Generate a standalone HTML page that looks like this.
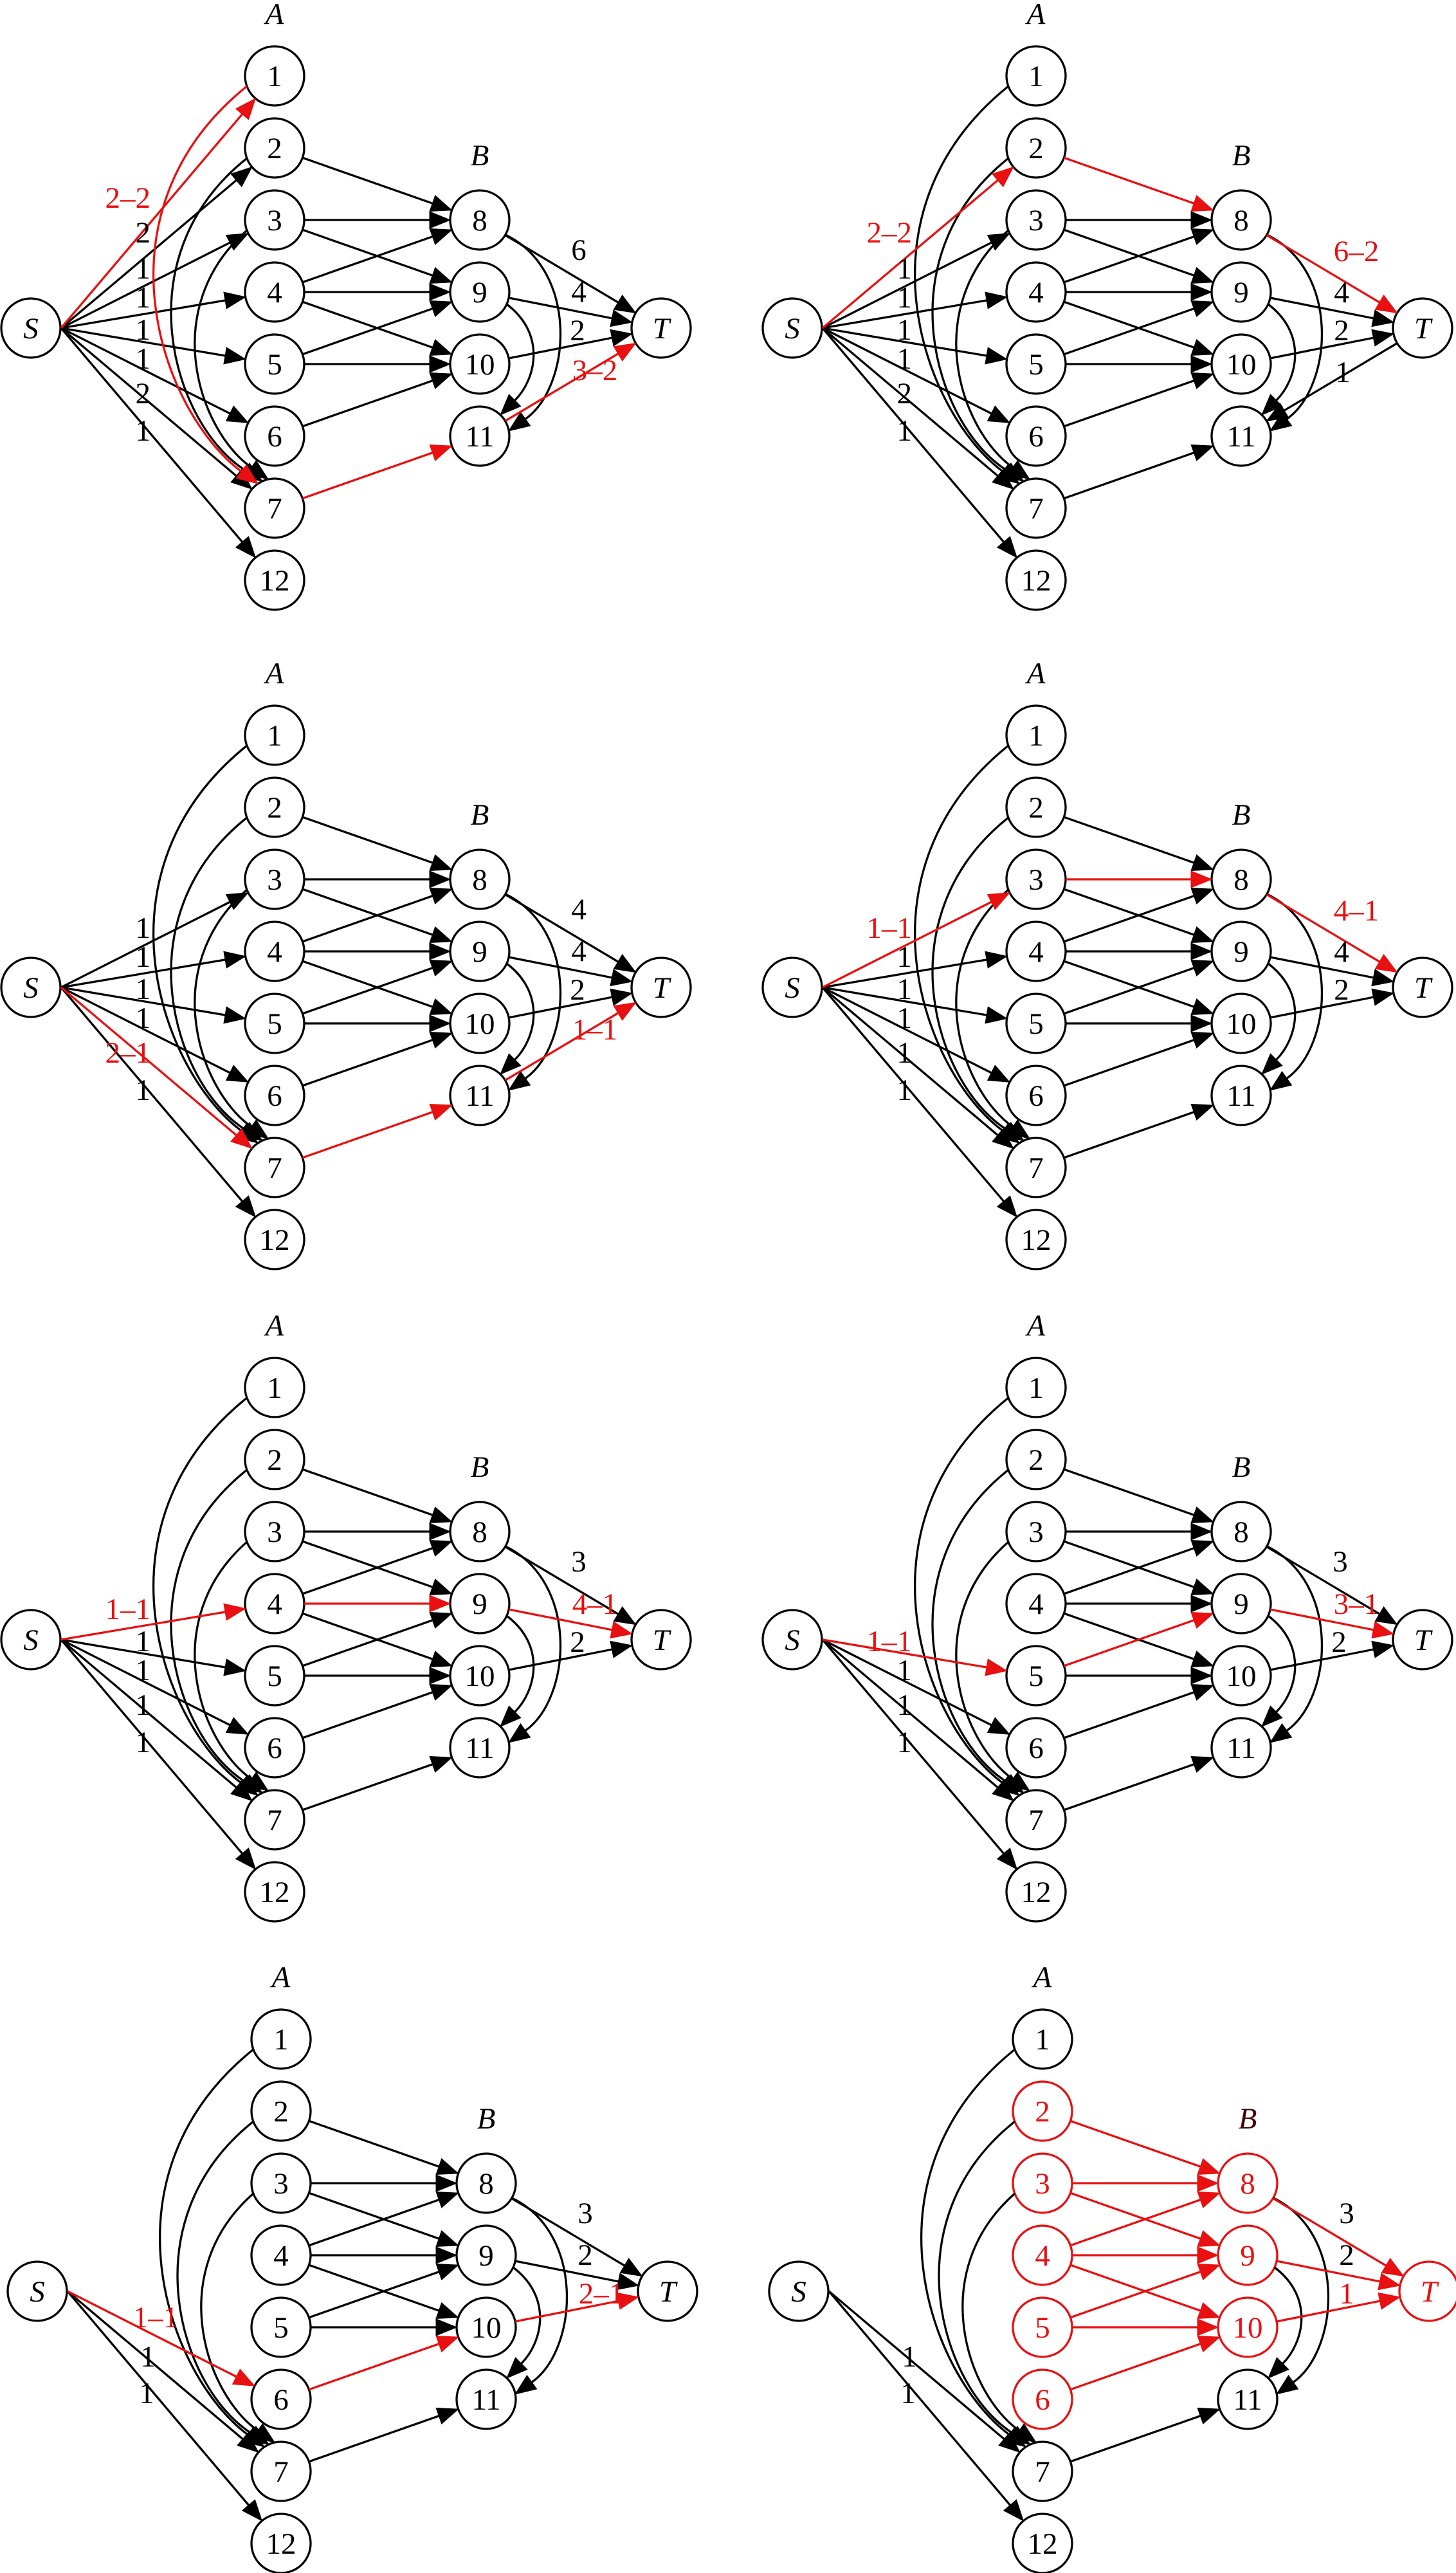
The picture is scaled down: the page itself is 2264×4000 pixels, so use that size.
<!DOCTYPE html>
<html><head><meta charset="utf-8">
<style>
html,body{margin:0;padding:0;background:#fff;}
svg{display:block;}
text{font-family:"Liberation Serif",serif;font-size:47px;text-anchor:middle;fill:#000;}
text.i{font-style:italic;}
text.r{fill:#e81010;}
text.e{text-anchor:end;}
</style></head>
<body>
<svg id="svg" width="2264" height="4000" viewBox="0 0 2264 4000" xmlns="http://www.w3.org/2000/svg">
<rect width="2264" height="4000" fill="#fff"/>
<g id="p1" transform="translate(0,0)"><g class="dr"></g>
<text class="i" x="48" y="526">S</text><text class="i" x="1028" y="526">T</text>
<text class="i" x="427" y="37">A</text><text class="i" x="746" y="257">B</text>
<text x="427" y="134">1</text><text x="427" y="246">2</text><text x="427" y="358">3</text><text x="427" y="470">4</text><text x="427" y="582">5</text><text x="427" y="694">6</text><text x="427" y="806">7</text><text x="427" y="918">12</text>
<text x="746" y="358">8</text><text x="746" y="470">9</text><text x="746" y="582">10</text><text x="746" y="694">11</text>
<text class="e r" x="234" y="323">2–2</text><text class="e" x="234" y="377">2</text><text class="e" x="234" y="433">1</text><text class="e" x="234" y="478">1</text><text class="e" x="234" y="528">1</text><text class="e" x="234" y="573">1</text><text class="e" x="234" y="627">2</text><text class="e" x="234" y="685">1</text>
<text x="900" y="404">6</text><text x="900" y="469">4</text><text x="898" y="529">2</text><text class="r" x="925" y="591">3–2</text>
</g>
<g id="p2" transform="translate(1184,0)"><g class="dr"></g>
<text class="i" x="48" y="526">S</text><text class="i" x="1028" y="526">T</text>
<text class="i" x="427" y="37">A</text><text class="i" x="746" y="257">B</text>
<text x="427" y="134">1</text><text x="427" y="246">2</text><text x="427" y="358">3</text><text x="427" y="470">4</text><text x="427" y="582">5</text><text x="427" y="694">6</text><text x="427" y="806">7</text><text x="427" y="918">12</text>
<text x="746" y="358">8</text><text x="746" y="470">9</text><text x="746" y="582">10</text><text x="746" y="694">11</text>
<text class="e r" x="234" y="377">2–2</text><text class="e" x="234" y="433">1</text><text class="e" x="234" y="478">1</text><text class="e" x="234" y="528">1</text><text class="e" x="234" y="573">1</text><text class="e" x="234" y="627">2</text><text class="e" x="234" y="685">1</text>
<text class="r" x="925" y="406">6–2</text><text x="902" y="470">4</text><text x="902" y="529">2</text><text x="904" y="594">1</text>
</g>
<g id="p3" transform="translate(0,1025)"><g class="dr"></g>
<text class="i" x="48" y="526">S</text><text class="i" x="1028" y="526">T</text>
<text class="i" x="427" y="37">A</text><text class="i" x="746" y="257">B</text>
<text x="427" y="134">1</text><text x="427" y="246">2</text><text x="427" y="358">3</text><text x="427" y="470">4</text><text x="427" y="582">5</text><text x="427" y="694">6</text><text x="427" y="806">7</text><text x="427" y="918">12</text>
<text x="746" y="358">8</text><text x="746" y="470">9</text><text x="746" y="582">10</text><text x="746" y="694">11</text>
<text class="e" x="234" y="433">1</text><text class="e" x="234" y="478">1</text><text class="e" x="234" y="528">1</text><text class="e" x="234" y="573">1</text><text class="e r" x="234" y="627">2–1</text><text class="e" x="234" y="685">1</text>
<text x="900" y="404">4</text><text x="900" y="469">4</text><text x="898" y="529">2</text><text class="r" x="925" y="591">1–1</text>
</g>
<g id="p4" transform="translate(1184,1025)"><g class="dr"></g>
<text class="i" x="48" y="526">S</text><text class="i" x="1028" y="526">T</text>
<text class="i" x="427" y="37">A</text><text class="i" x="746" y="257">B</text>
<text x="427" y="134">1</text><text x="427" y="246">2</text><text x="427" y="358">3</text><text x="427" y="470">4</text><text x="427" y="582">5</text><text x="427" y="694">6</text><text x="427" y="806">7</text><text x="427" y="918">12</text>
<text x="746" y="358">8</text><text x="746" y="470">9</text><text x="746" y="582">10</text><text x="746" y="694">11</text>
<text class="e r" x="234" y="433">1–1</text><text class="e" x="234" y="478">1</text><text class="e" x="234" y="528">1</text><text class="e" x="234" y="573">1</text><text class="e" x="234" y="627">1</text><text class="e" x="234" y="685">1</text>
<text class="r" x="925" y="406">4–1</text><text x="902" y="470">4</text><text x="902" y="529">2</text>
</g>
<g id="p5" transform="translate(0,2039)"><g class="dr"></g>
<text class="i" x="48" y="526">S</text><text class="i" x="1028" y="526">T</text>
<text class="i" x="427" y="37">A</text><text class="i" x="746" y="257">B</text>
<text x="427" y="134">1</text><text x="427" y="246">2</text><text x="427" y="358">3</text><text x="427" y="470">4</text><text x="427" y="582">5</text><text x="427" y="694">6</text><text x="427" y="806">7</text><text x="427" y="918">12</text>
<text x="746" y="358">8</text><text x="746" y="470">9</text><text x="746" y="582">10</text><text x="746" y="694">11</text>
<text class="e r" x="234" y="478">1–1</text><text class="e" x="234" y="528">1</text><text class="e" x="234" y="573">1</text><text class="e" x="234" y="627">1</text><text class="e" x="234" y="685">1</text>
<text x="900" y="404">3</text><text class="r" x="925" y="470">4–1</text><text x="898" y="529">2</text>
</g>
<g id="p6" transform="translate(1184,2039)"><g class="dr"></g>
<text class="i" x="48" y="526">S</text><text class="i" x="1028" y="526">T</text>
<text class="i" x="427" y="37">A</text><text class="i" x="746" y="257">B</text>
<text x="427" y="134">1</text><text x="427" y="246">2</text><text x="427" y="358">3</text><text x="427" y="470">4</text><text x="427" y="582">5</text><text x="427" y="694">6</text><text x="427" y="806">7</text><text x="427" y="918">12</text>
<text x="746" y="358">8</text><text x="746" y="470">9</text><text x="746" y="582">10</text><text x="746" y="694">11</text>
<text class="e r" x="234" y="528">1–1</text><text class="e" x="234" y="573">1</text><text class="e" x="234" y="627">1</text><text class="e" x="234" y="685">1</text>
<text x="900" y="404">3</text><text class="r" x="925" y="470">3–1</text><text x="898" y="529">2</text>
</g>
<g id="p7" transform="translate(10,3052)"><g class="dr"></g>
<text class="i" x="48" y="526">S</text><text class="i" x="1028" y="526">T</text>
<text class="i" x="427" y="37">A</text><text class="i" x="746" y="257">B</text>
<text x="427" y="134">1</text><text x="427" y="246">2</text><text x="427" y="358">3</text><text x="427" y="470">4</text><text x="427" y="582">5</text><text x="427" y="694">6</text><text x="427" y="806">7</text><text x="427" y="918">12</text>
<text x="746" y="358">8</text><text x="746" y="470">9</text><text x="746" y="582">10</text><text x="746" y="694">11</text>
<text class="r" x="232" y="566">1–1</text><text x="220" y="627">1</text><text x="218" y="684">1</text>
<text x="900" y="404">3</text><text x="900" y="469">2</text><text class="r" x="925" y="529">2–1</text>
</g>
<g id="p8" transform="translate(1194,3052)"><g class="dr"></g>
<text class="i" x="48" y="526">S</text><text class="i r" x="1028" y="526">T</text>
<text class="i" x="427" y="37">A</text><text class="i" x="746" y="257" style="fill:#400">B</text>
<text x="427" y="134">1</text><text class="r" x="427" y="246">2</text><text class="r" x="427" y="358">3</text><text class="r" x="427" y="470">4</text><text class="r" x="427" y="582">5</text><text class="r" x="427" y="694">6</text><text x="427" y="806">7</text><text x="427" y="918">12</text>
<text class="r" x="746" y="358">8</text><text class="r" x="746" y="470">9</text><text class="r" x="746" y="582">10</text><text x="746" y="694">11</text>
<text x="220" y="627">1</text><text x="218" y="684">1</text>
<text x="900" y="404">3</text><text x="900" y="469">2</text><text class="r" x="900" y="529">1</text>
</g>
</svg>
<script>
(function(){
var NS="http://www.w3.org/2000/svg";
var RED="#e81010",R=46,AL=32,HW=13,SW=3.3;
var P={S:[48,510],T:[1028,510],1:[427,118],2:[427,230],3:[427,342],4:[427,454],5:[427,566],6:[427,678],7:[427,790],12:[427,902],8:[746,342],9:[746,454],10:[746,566],11:[746,678]};
var ARCS={
"1-7":[[384,134],[140,330],[250,640],[401,752]],
"2-7":[[384,246],[190,400],[269,660],[408,748]],
"3-7":[[384,358],[245,480],[310,670],[417,745]],
"8-11":[[786,365],[900,420],[889,600],[791,670]],
"9-11":[[788,473],[850,520],[833,590],[778,645]]
};
function el(g,tag,at){var e=document.createElementNS(NS,tag);for(var k in at)e.setAttribute(k,at[k]);g.appendChild(e);return e;}
function unit(dx,dy){var l=Math.sqrt(dx*dx+dy*dy);return [dx/l,dy/l];}
function arrow(g,tip,d,c){
  var bx=tip[0]-AL*d[0],by=tip[1]-AL*d[1];
  var px=-d[1]*HW,py=d[0]*HW;
  el(g,"polygon",{points:tip[0]+","+tip[1]+" "+(bx+px)+","+(by+py)+" "+(bx-px)+","+(by-py),fill:c,stroke:c,"stroke-width":1});
  return [bx,by];
}
function straight(g,a,b,c){
  var A=P[a],B=P[b],st;
  if(a==="S"){st=[A[0]+47,A[1]];}
  else{var d0=unit(B[0]-A[0],B[1]-A[1]);st=[A[0]+R*d0[0],A[1]+R*d0[1]];}
  var d=unit(B[0]-st[0],B[1]-st[1]);
  var tip=[B[0]-R*d[0],B[1]-R*d[1]];
  var base=arrow(g,tip,d,c);
  el(g,"line",{x1:st[0],y1:st[1],x2:base[0],y2:base[1],stroke:c,"stroke-width":SW});
}
function arc(g,k,c){
  var a=ARCS[k];var tip=a[3];var d=unit(tip[0]-a[2][0],tip[1]-a[2][1]);
  var base=arrow(g,tip,d,c);
  el(g,"path",{d:"M"+a[0][0]+","+a[0][1]+" C"+a[1][0]+","+a[1][1]+" "+a[2][0]+","+a[2][1]+" "+base[0]+","+base[1],fill:"none",stroke:c,"stroke-width":SW});
}
var AB=["2-8","3-8","3-9","4-8","4-9","4-10","5-9","5-10","6-10","7-11"];
var ARCK=["1-7","2-7","3-7","8-11","9-11"];
var cfg={
p1:{S:[1,2,3,4,5,6,7,12],BT:[8,9,10,11],x:[],red:["S-1","1-7","7-11","11-T"],rn:[]},
p2:{S:[2,3,4,5,6,7,12],BT:[8,9,10],x:["T-11"],red:["S-2","2-8","8-T"],rn:[]},
p3:{S:[3,4,5,6,7,12],BT:[8,9,10,11],x:[],red:["S-7","7-11","11-T"],rn:[]},
p4:{S:[3,4,5,6,7,12],BT:[8,9,10],x:[],red:["S-3","3-8","8-T"],rn:[]},
p5:{S:[4,5,6,7,12],BT:[8,9,10],x:[],red:["S-4","4-9","9-T"],rn:[]},
p6:{S:[5,6,7,12],BT:[8,9,10],x:[],red:["S-5","5-9","9-T"],rn:[]},
p7:{S:[6,7,12],BT:[8,9,10],x:[],red:["S-6","6-10","10-T"],rn:[]},
p8:{S:[7,12],BT:[8,9,10],x:[],red:["2-8","3-8","3-9","4-8","4-9","4-10","5-9","5-10","6-10","8-T","9-T","10-T"],rn:["2","3","4","5","6","8","9","10","T"]}
};
function draw(g,e,col){
  if(ARCS[e]){arc(g,e,col);return;}
  var p=e.split("-");straight(g,p[0],p[1],col);
}
for(var id in cfg){
  var c=cfg[id];var g=document.querySelector("#"+id+" .dr");
  for(var n in P){
    var red=c.rn.indexOf(n)>=0;
    el(g,"circle",{cx:P[n][0],cy:P[n][1],r:R,fill:"#fff",stroke:red?RED:"#000","stroke-width":SW});
  }
  var edges=[];
  c.S.forEach(function(t){edges.push("S-"+t);});
  AB.forEach(function(e){edges.push(e);});
  c.BT.forEach(function(t){edges.push(t+"-T");});
  c.x.forEach(function(e){edges.push(e);});
  ARCK.forEach(function(e){edges.push(e);});
  var later=[];
  edges.forEach(function(e){
    if(c.red.indexOf(e)>=0){later.push(e);return;}
    draw(g,e,"#000");
  });
  later.forEach(function(e){draw(g,e,RED);});
}
})();
</script>
</body></html>
